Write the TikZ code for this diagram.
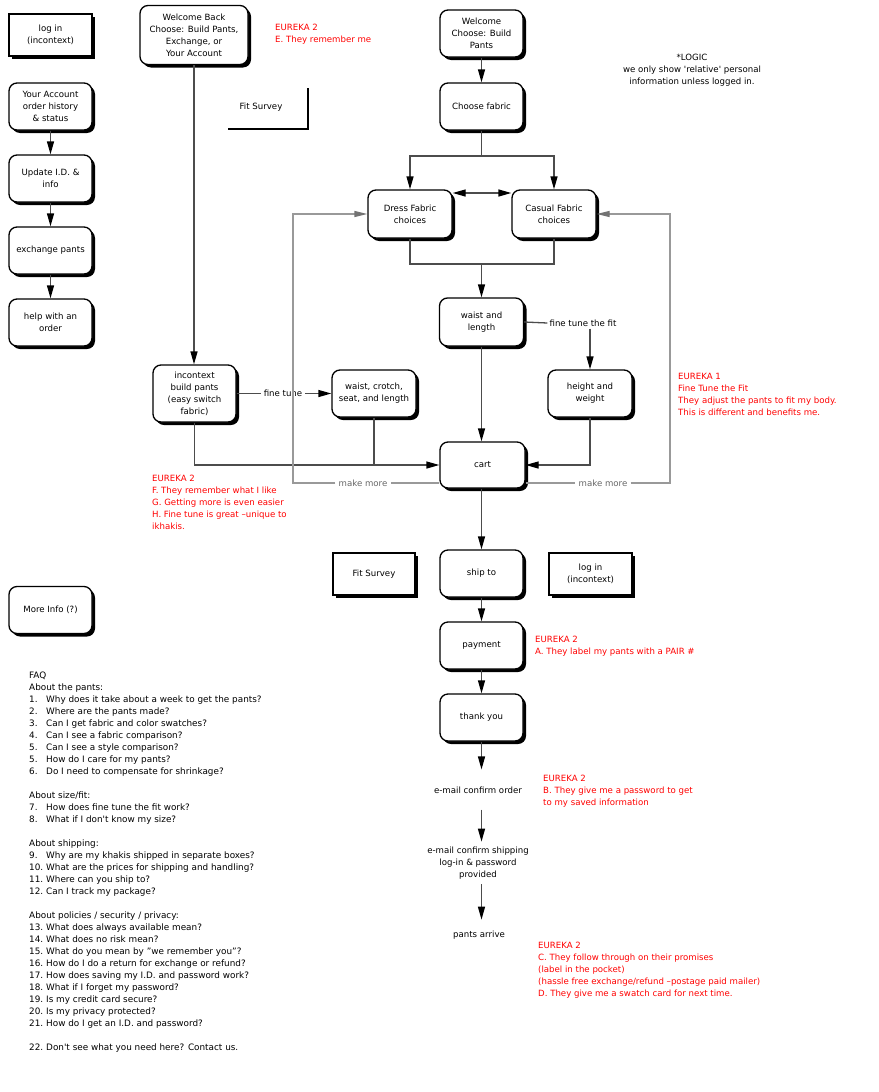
\documentclass[tikz,border=0pt]{standalone}
\usepackage{fontspec}
\setmainfont{DejaVu Sans}
\usetikzlibrary{arrows.meta,shadows}
\newcommand\faqitem[2]{\makebox[17pt][l]{#1}#2}
\begin{document}
\begin{tikzpicture}[x=1pt,y=-1pt,
  font=\fontsize{8.6}{12}\selectfont,
  every node/.style={inner sep=0pt, align=center},
  rbox/.style={draw=black, line width=1.3pt, rounded corners=8pt, fill=white,
    drop shadow={shadow xshift=3pt,shadow yshift=-3pt,opacity=1,fill=black},
    minimum width=83pt, minimum height=47pt},
  sbox/.style={rbox, rounded corners=0pt, minimum height=42pt},
  link/.style={draw=black!70, line width=1.3pt},
  conn/.style={link, -{Triangle[length=13pt,width=7pt,color=black]}},
  dconn/.style={link, {Triangle[length=13pt,width=7pt,color=black]}-{Triangle[length=13pt,width=7pt,color=black]}},
  glink/.style={draw=black!40, line width=1.3pt},
  gconn/.style={glink, -{Triangle[length=13pt,width=6pt,color=black!55]}},
  red/.style={text=red, align=left, anchor=west},
  plain/.style={align=left, anchor=west}
]
\useasboundingbox (0,0) rectangle (878,1092);

% left column
\node[sbox] (login1) at (50.5,35) {log in\\(incontext)};
\node[rbox] (acct) at (50.5,106.5) {Your Account\\order history\\\& status};
\node[rbox] (upd) at (50.5,178.5) {Update I.D. \&\\info};
\node[rbox] (exch) at (50.5,250.5) {exchange pants};
\node[rbox] (help) at (50.5,322.5) {help with an\\order};
\node[rbox] (more) at (50.5,610) {More Info (?)};
\draw[conn] (acct) -- (upd);
\draw[conn] (upd) -- (exch);
\draw[conn] (exch) -- (help);

% returning path
\node[rbox, minimum width=108pt, minimum height=59pt] (wback) at (194,35) {Welcome Back\\Choose: Build Pants,\\Exchange, or\\Your Account};
\node[red] (eurE) at (275,34.5) {EUREKA 2\\E. They remember me};
\node (fs1) at (261,107) {Fit Survey};
\draw[line width=2.4pt] ([shift={(47,-19)}]fs1.center) -- ([shift={(47,22)}]fs1.center) -- ([shift={(-33,22)}]fs1.center);
\node[rbox, minimum height=57pt] (incb) at (194.5,393.5) {incontext\\build pants\\(easy switch\\fabric)};
\node[rbox, minimum width=84pt] (wcsl) at (374,393.5) {waist, crotch,\\seat, and length};
\draw[conn] (wback.south) -- (wback.south |- incb.north);
\node[inner sep=3pt] (ft) at (283,393.5) {fine tune};
\draw[link] (incb.east) -- (ft.west);
\draw[conn] (ft.east) -- (wcsl.west);

% new visitor path
\node[rbox] (welcome) at (481.5,33.5) {Welcome\\Choose: Build\\Pants};
\node[rbox] (fabric) at (481.5,106.5) {Choose fabric};
\node (logic) at (692,70) {*LOGIC\\we only show \textquotesingle relative\textquotesingle\ personal\\information unless logged in.};
\draw[conn] (welcome) -- (fabric);
\node[rbox, minimum width=84pt, minimum height=48pt] (dress) at (410,214) {Dress Fabric\\choices};
\node[rbox, minimum width=84pt, minimum height=48pt] (casual) at (554,214) {Casual Fabric\\choices};
\coordinate (fj) at (481.5,156);
\draw[link] (fabric.south) -- (fj);
\draw[conn] (fj) -| (dress.north);
\draw[conn] (fj) -| (casual.north);
\draw[dconn] ([yshift=21pt]dress.east) -- ([yshift=21pt]casual.west);
\coordinate (bj) at (481.5,264);
\draw[link] (dress.south) |- (bj) -| (casual.south);
\node[rbox, minimum width=84pt, minimum height=48pt] (wl) at (481.5,322) {waist and\\length};
\draw[conn] (bj) -- (wl.north);
\node[inner sep=2pt] (ftf) at (583,323) {fine tune the fit};
\draw[link] (wl.east) -- (ftf.west);
\node[rbox, minimum width=84pt] (hw) at (590,393.5) {height and\\weight};
\draw[conn] (hw.north |- ftf.south) -- (hw.north);
\node[rbox, minimum width=85pt, minimum height=46pt] (cart) at (482.5,465) {cart};
\draw[conn] (wl.south) -- (wl.south |- cart.north);
\draw[conn] (hw.south) |- (cart.east);
\draw[conn] (incb.south) |- (cart.west);
\draw[link] (wcsl.south) -- (wcsl.south |- cart.west);

% make more loops
\node[inner sep=3pt, text=black!60] (mm1) at (363,483) {make more};
\node[inner sep=3pt, text=black!60] (mm2) at (603,483) {make more};
\coordinate (gl) at (293,483);
\coordinate (gr) at (670,483);
\draw[glink] ([yshift=-18pt]cart.west) -- (mm1.east);
\draw[gconn] (mm1.west) -- (gl) |- (dress.west);
\draw[glink] ([yshift=-18pt]cart.east) -- (mm2.west);
\draw[gconn] (mm2.east) -- (gr) |- (casual.east);

\node[red] (eurFGH) at (152,502) {EUREKA 2\\F. They remember what I like\\G. Getting more is even easier\\H. Fine tune is great --unique to\\ikhakis.};
\node[red] (eur1) at (678,394) {EUREKA 1\\Fine Tune the Fit\\They adjust the pants to fit my body.\\This is different and benefits me.};

% checkout
\node[sbox, minimum width=82pt] (fs2) at (374,574) {Fit Survey};
\node[rbox] (ship) at (481.5,573.5) {ship to};
\node[sbox] (login2) at (590.5,574) {log in\\(incontext)};
\node[rbox] (pay) at (481.5,645.5) {payment};
\node[rbox] (thank) at (481.5,717.5) {thank you};
\draw[conn] (cart.south -| ship.north) -- (ship.north);
\draw[conn] (ship) -- (pay);
\draw[conn] (pay) -- (thank);
\node[red] (eurA) at (535,646) {EUREKA 2\\A. They label my pants with a PAIR \#};

\node (eco) at (478,790) {e-mail confirm order};
\node (ecs) at (478,863) {e-mail confirm shipping\\log-in \& password\\provided};
\node (pa) at (479,935) {pants arrive};
\draw[conn, shorten >=17pt] (thank.south) -- (thank.south |- eco.north);
\draw[conn, shorten <=16pt, shorten >=5pt] (thank.south |- eco.south) -- (thank.south |- ecs.north);
\draw[conn, shorten <=5pt, shorten >=11pt] (thank.south |- ecs.south) -- (thank.south |- pa.north);
\node[red] (eurB) at (543,791) {EUREKA 2\\B. They give me a password to get\\to my saved information};
\node[red] (eurCD) at (538,970) {EUREKA 2\\C. They follow through on their promises\\(label in the pocket)\\(hassle free exchange/refund --postage paid mailer)\\D. They give me a swatch card for next time.};

% FAQ
\node[plain, font=\fontsize{8.85}{12}\selectfont] (faq) at (29,862) {FAQ\\
About the pants:\\
\faqitem{1.}{Why does it take about a week to get the pants?}\\
\faqitem{2.}{Where are the pants made?}\\
\faqitem{3.}{Can I get fabric and color swatches?}\\
\faqitem{4.}{Can I see a fabric comparison?}\\
\faqitem{5.}{Can I see a style comparison?}\\
\faqitem{5.}{How do I care for my pants?}\\
\faqitem{6.}{Do I need to compensate for shrinkage?}\\[12pt]
About size/fit:\\
\faqitem{7.}{How does fine tune the fit work?}\\
\faqitem{8.}{What if I don\textquotesingle t know my size?}\\[12pt]
About shipping:\\
\faqitem{9.}{Why are my khakis shipped in separate boxes?}\\
\faqitem{10.}{What are the prices for shipping and handling?}\\
\faqitem{11.}{Where can you ship to?}\\
\faqitem{12.}{Can I track my package?}\\[12pt]
About policies / security / privacy:\\
\faqitem{13.}{What does always available mean?}\\
\faqitem{14.}{What does no risk mean?}\\
\faqitem{15.}{What do you mean by "we remember you"?}\\
\faqitem{16.}{How do I do a return for exchange or refund?}\\
\faqitem{17.}{How does saving my I.D. and password work?}\\
\faqitem{18.}{What if I forget my password?}\\
\faqitem{19.}{Is my credit card secure?}\\
\faqitem{20.}{Is my privacy protected?}\\
\faqitem{21.}{How do I get an I.D. and password?}\\[12pt]
\faqitem{22.}{Don\textquotesingle t see what you need here? Contact us.}};
\end{tikzpicture}
\end{document}
